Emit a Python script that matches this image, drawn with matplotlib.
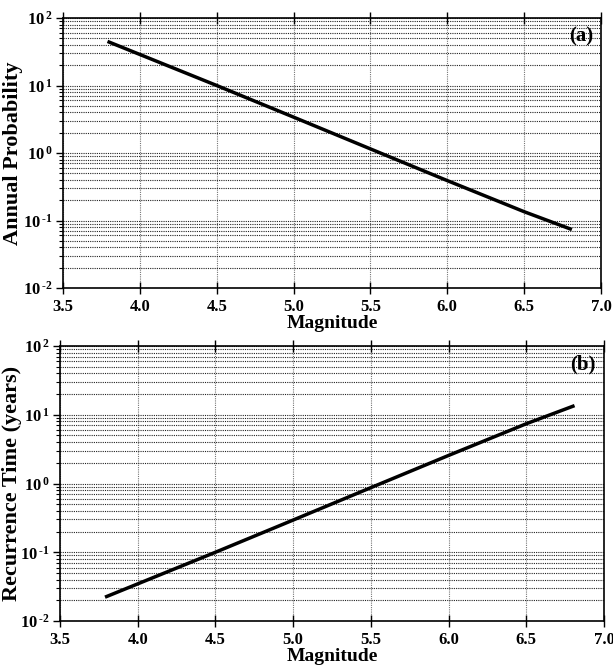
import matplotlib
matplotlib.use("Agg")
import matplotlib.pyplot as plt
from matplotlib.ticker import LogLocator, NullFormatter, MultipleLocator, FormatStrFormatter, FuncFormatter
import math

plt.rcParams['font.family'] = ['Liberation Serif', 'DejaVu Serif']
plt.rcParams['font.weight'] = 'bold'
plt.rcParams['mathtext.fontset'] = 'custom'
plt.rcParams['mathtext.rm'] = 'Liberation Serif:bold'
plt.rcParams['mathtext.bf'] = 'Liberation Serif:bold'
plt.rcParams['mathtext.default'] = 'rm'

magnitude = [3.8, 4.5, 5.0, 5.5, 6.0, 6.5, 6.8]
annual_probability = [44.0, 10.0, 3.4, 1.15, 0.39, 0.135, 0.075]
recurrence_time = [0.0227, 0.100, 0.294, 0.87, 2.56, 7.4, 13.3]

panels = [
    dict(y=annual_probability, ylabel="Annual Probability", tag="(a)",
         rect=[63/613, 1-288/665, (601-63)/613, (288-18)/665], lx=(13-63)/538, ty=0.97),
    dict(y=recurrence_time, ylabel="Recurrence Time (years)", tag="(b)",
         rect=[60/613, 1-621/665, (604-60)/613, (621-346)/665], lx=(12-60)/544, ty=0.97),
]

def logfmt(v, pos):
    e = int(round(math.log10(v)))
    return r'$10^{\,\text{%d}}$' % e

fig = plt.figure(figsize=(6.13, 6.65), dpi=100)
for p in panels:
    ax = fig.add_axes(p['rect'])
    ax.plot(magnitude, p['y'], color='black', lw=2.5, zorder=3)
    ax.set_yscale('log')
    ax.set_xlim(3.5, 7.0)
    ax.set_ylim(1e-2, 1e2)
    ax.xaxis.set_major_locator(MultipleLocator(0.5))
    ax.xaxis.set_major_formatter(FormatStrFormatter('%.1f'))
    ax.yaxis.set_major_locator(LogLocator(base=10, numticks=10))
    ax.yaxis.set_major_formatter(FuncFormatter(logfmt))
    ax.yaxis.set_minor_locator(LogLocator(base=10, subs=range(2, 10), numticks=100))
    ax.yaxis.set_minor_formatter(NullFormatter())
    ax.grid(True, axis='x', which='major', linestyle=(0, (1, 1)), color='#777777', lw=0.8)
    ax.grid(True, axis='y', which='both', linestyle=(0, (1, 1)), color='#222222', lw=0.8)
    ax.tick_params(axis='x', which='major', direction='inout', length=8, top=True,
                   labelsize=12, width=1, pad=4)
    ax.tick_params(axis='y', which='major', direction='out', length=5, labelsize=12, width=1, pad=2)
    ax.tick_params(axis='y', which='minor', direction='out', length=3, width=0.8)
    for lab in ax.get_xticklabels() + ax.get_yticklabels():
        lab.set_fontweight('bold')
    for s in ax.spines.values():
        s.set_linewidth(1.2)
    ax.set_xlabel("Magnitude", fontsize=14, fontweight='bold', labelpad=0)
    ax.set_ylabel(p['ylabel'], fontsize=16, fontweight='bold', va='center')
    ax.yaxis.set_label_coords(p['lx'], 0.5)
    ax.text(0.985, p['ty'], p['tag'], transform=ax.transAxes, ha='right', va='top',
            fontsize=15, fontweight='bold')

fig.savefig("out.png", dpi=100)
